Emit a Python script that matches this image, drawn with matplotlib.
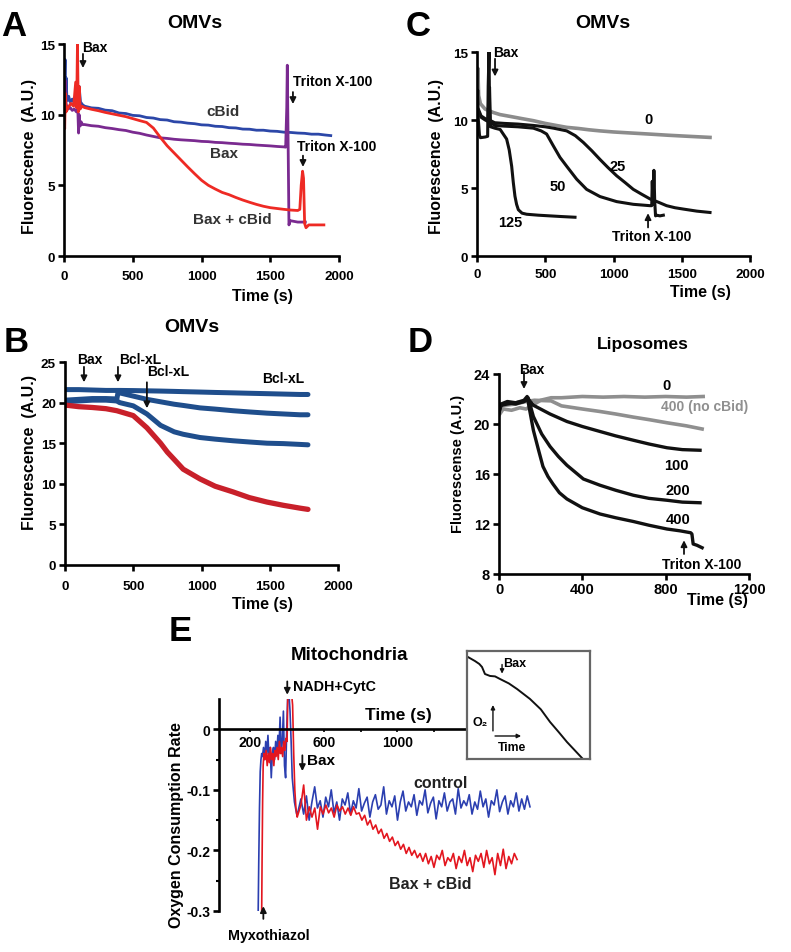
import numpy as np
import matplotlib
matplotlib.use('Agg')
import matplotlib.pyplot as plt

plt.rcParams['font.family'] = ['Liberation Sans', 'DejaVu Sans']
plt.rcParams['font.weight'] = 'bold'

# ---------------- data ----------------
# Panel A (OMVs): fluorescence vs time
a_cbid_t = [0, 4, 8, 12, 16, 20, 26, 34, 45, 60, 75, 90, 100, 110, 120, 135,
            150, 200, 250, 300, 350, 400, 450, 500, 550, 600, 650, 700, 750, 800, 850, 900, 950,
            1000, 1050, 1100, 1150, 1200, 1250, 1300, 1350, 1400, 1450, 1500, 1550, 1600, 1650,
            1700, 1750, 1800, 1850, 1900, 1940]
a_cbid_v = [10.6, 12.5, 13.9, 11.2, 12.6, 11.4, 11.0, 11.3, 10.9, 11.1, 10.8, 11.8, 11.3, 12.0, 10.9, 10.7,
            10.60, 10.48, 10.45, 10.32, 10.28, 10.12, 10.08, 9.95, 9.92, 9.80, 9.76, 9.65, 9.62, 9.50, 9.47, 9.40, 9.36,
            9.28, 9.26, 9.18, 9.16, 9.08, 9.06, 8.98, 8.97, 8.90, 8.90, 8.84, 8.82, 8.76, 8.74,
            8.70, 8.68, 8.62, 8.62, 8.56, 8.52]
a_bax_t = [0, 5, 10, 15, 20, 30, 45, 60, 75, 90, 100, 106, 110, 114, 118, 124, 135,
           150, 200, 250, 300, 350, 400, 450, 500, 550, 600, 650, 700, 750, 800, 850, 900, 950,
           1000, 1050, 1100, 1150, 1200, 1250, 1300, 1350, 1400, 1450, 1500, 1550, 1600,
           1612, 1620, 1624, 1630, 1636, 1645, 1700, 1755]
a_bax_v = [10.3, 11.0, 12.4, 10.8, 10.6, 10.4, 10.5, 10.3, 10.4, 10.2, 10.5, 8.7, 10.0, 9.4, 9.2, 9.5, 9.3,
           9.30, 9.22, 9.18, 9.08, 9.02, 8.94, 8.88, 8.76, 8.68, 8.56, 8.46, 8.36, 8.32, 8.26, 8.22, 8.19, 8.16,
           8.11, 8.09, 8.04, 8.02, 7.98, 7.95, 7.91, 7.89, 7.85, 7.82, 7.79, 7.75, 7.72,
           7.70, 10.5, 13.5, 8.0, 2.2, 2.5, 2.4, 2.4]
a_both_t = [0, 5, 10, 15, 30, 50, 70, 85, 92, 98, 104, 110, 118, 130,
            150, 200, 250, 300, 350, 400, 450, 500, 550, 600, 650, 700, 750, 800, 850, 900, 950,
            1000, 1050, 1100, 1150, 1200, 1250, 1300, 1350, 1400, 1450, 1500, 1550, 1600, 1650, 1700,
            1715, 1725, 1735, 1742, 1750, 1760, 1780, 1850, 1890]
a_both_v = [10.5, 9.0, 11.5, 10.2, 10.5, 10.8, 10.6, 12.3, 10.5, 15.0, 10.2, 12.0, 10.4, 10.6,
            10.50, 10.38, 10.28, 10.16, 10.06, 9.96, 9.86, 9.72, 9.58, 9.45, 9.05, 8.40, 7.80, 7.30, 6.80, 6.30, 5.82,
            5.36, 5.00, 4.74, 4.50, 4.34, 4.14, 3.96, 3.80, 3.65, 3.52, 3.42, 3.36, 3.30, 3.25, 3.22,
            3.3, 5.0, 6.0, 5.5, 2.3, 2.0, 2.2, 2.2, 2.2]

# Panel B (OMVs, Bcl-xL)
b_t = [0, 100, 200, 300, 380, 390, 400, 500, 600, 700, 750, 800, 866, 989, 1100, 1231, 1350, 1480, 1600, 1722, 1780]
b_top = [21.6, 21.6, 21.55, 21.5, 21.5, 21.5, 21.5, 21.48, 21.45, 21.42, 21.4, 21.38, 21.35, 21.3, 21.25, 21.2, 21.15, 21.1, 21.05, 21.0, 21.0]
b_mid = [20.3, 20.4, 20.5, 20.5, 20.45, 21.4, 21.2, 20.8, 20.4, 20.1, 19.95, 19.8, 19.65, 19.35, 19.2, 19.0, 18.85, 18.7, 18.6, 18.5, 18.5]
b_low = [20.1, 20.2, 20.3, 20.3, 20.2, 20.1, 20.0, 19.6, 18.6, 17.2, 16.8, 16.4, 16.1, 15.7, 15.5, 15.3, 15.15, 15.0, 14.95, 14.85, 14.8]
b_red = [19.7, 19.5, 19.4, 19.25, 19.0, 18.95, 18.9, 18.4, 16.9, 15.0, 13.9, 13.0, 11.8, 10.6, 9.7, 9.0, 8.3, 7.75, 7.35, 7.0, 6.85]

# Panel C (OMVs, cBid titration)
c0_t = [0, 6, 12, 25, 60, 120, 168, 250, 330, 413, 500, 580, 657, 740, 820, 901, 1000, 1100, 1255, 1400, 1550, 1707]
c0_v = [12.5, 13.8, 11.8, 11.2, 10.8, 10.55, 10.4, 10.25, 10.1, 9.95, 9.75, 9.6, 9.46, 9.38, 9.28, 9.2, 9.12, 9.06, 8.97, 8.88, 8.8, 8.72]
c125_t = [0, 5, 10, 18, 25, 60, 78, 82, 88, 92, 96, 100, 130, 170, 217, 236, 254, 266, 278, 290, 303, 330, 364, 450, 535, 620, 718]
c125_v = [10.5, 12.2, 10.0, 8.9, 8.7, 8.75, 8.8, 12.5, 15.0, 11.0, 9.6, 9.5, 9.4, 9.3, 8.6, 7.8, 6.6, 5.4, 4.4, 3.8, 3.4, 3.15, 3.07, 3.0, 2.95, 2.9, 2.85]
c50_t = [0, 10, 30, 60, 80, 86, 92, 98, 130, 200, 300, 413, 470, 510, 559, 608, 657, 730, 803, 901, 1023, 1145, 1267,
         1280, 1284, 1290, 1296, 1302, 1308, 1316, 1340, 1365]
c50_v = [10.3, 10.6, 10.2, 10.0, 9.9, 11.8, 12.4, 9.8, 9.6, 9.55, 9.5, 9.4, 9.2, 8.97, 8.1, 7.25, 6.6, 5.65, 4.9, 4.37, 4.0, 3.8, 3.7,
         3.7, 5.5, 3.8, 6.3, 4.0, 2.95, 3.0, 2.95, 3.0]
c25_t = [0, 10, 30, 60, 90, 130, 200, 300, 413, 500, 560, 657, 720, 779, 840, 901, 960, 1023, 1085, 1145, 1205, 1267, 1330, 1389, 1450, 1512, 1610, 1707]
c25_v = [10.4, 10.8, 10.3, 10.1, 10.0, 9.8, 9.75, 9.7, 9.6, 9.5, 9.4, 9.2, 8.85, 8.35, 7.75, 7.1, 6.5, 5.9, 5.4, 4.9, 4.55, 4.2, 3.95, 3.7, 3.55, 3.45, 3.3, 3.2]

# Panel D (Liposomes)
d0_t = [0, 20, 60, 100, 130, 170, 200, 250, 300, 400, 500, 600, 700, 800, 900, 980]
d0_v = [20.7, 21.2, 21.1, 21.3, 21.2, 21.6, 21.9, 22.1, 22.1, 22.2, 22.15, 22.2, 22.15, 22.2, 22.15, 22.2]
dn_t = [0, 30, 80, 130, 170, 250, 300, 400, 485, 560, 645, 720, 806, 900, 975]
dn_v = [21.4, 21.5, 21.6, 21.8, 21.9, 21.85, 21.45, 21.2, 21.0, 20.8, 20.55, 20.35, 20.1, 19.85, 19.6]
d100_t = [0, 10, 40, 80, 120, 140, 165, 245, 326, 400, 485, 560, 645, 720, 806, 880, 965]
d100_v = [20.9, 21.5, 21.6, 21.7, 21.8, 22.0, 21.5, 20.8, 20.2, 19.8, 19.4, 19.05, 18.7, 18.4, 18.1, 17.95, 17.9]
d200_t = [0, 10, 40, 80, 120, 140, 165, 205, 245, 285, 326, 405, 485, 560, 645, 720, 806, 880, 965]
d200_v = [21.0, 21.5, 21.7, 21.6, 21.8, 22.1, 20.6, 19.2, 18.2, 17.4, 16.7, 15.6, 15.1, 14.7, 14.3, 14.05, 13.9, 13.75, 13.7]
d400_t = [0, 10, 40, 80, 120, 135, 165, 190, 211, 235, 259, 290, 326, 400, 485, 560, 645, 720, 806, 870, 920, 926, 932, 950, 975]
d400_v = [21.2, 21.6, 21.8, 21.7, 21.9, 22.2, 19.5, 17.9, 16.6, 15.8, 15.2, 14.5, 14.0, 13.3, 12.8, 12.5, 12.2, 11.9, 11.6, 11.45, 11.3, 11.2, 10.4, 10.3, 10.1]

# Panel E (Mitochondria): oxygen consumption rate
e_ctrl_pre_t = [243, 246, 250, 254, 258, 262, 266, 272, 278, 284, 290, 296, 302, 308, 314, 320, 326, 332, 338, 344,
                350, 356, 362, 368, 374, 380, 386, 392, 398, 404, 410, 416, 422, 428, 434, 440, 446, 452]
e_ctrl_pre_v = [-0.30, -0.22, -0.13, -0.07, -0.05, -0.04, -0.045, -0.03, -0.05, -0.02, -0.04, -0.01, -0.05, -0.03,
                -0.08, -0.04, -0.03, -0.05, -0.02, -0.04, -0.01, -0.03, 0.02, -0.04, -0.02, 0.03, -0.06, -0.08,
                0.0, 0.06, 0.06, 0.03, -0.02, -0.08, -0.10, -0.12, -0.13, -0.14]
e_ctrl_t0, e_ctrl_t1 = 460, 1720
e_ctrl_v = [-0.135, -0.115, -0.140, -0.110, -0.150, -0.120, -0.095, -0.130, -0.118, -0.145, -0.112, -0.128, -0.100, -0.138, -0.120, -0.150, -0.115, -0.125, -0.105, -0.140,
            -0.118, -0.130, -0.098, -0.135, -0.122, -0.112, -0.145, -0.120, -0.108, -0.132, -0.125, -0.095, -0.140, -0.118, -0.128, -0.110, -0.150, -0.120, -0.102, -0.135,
            -0.120, -0.128, -0.108, -0.142, -0.118, -0.125, -0.100, -0.138, -0.122, -0.112, -0.148, -0.118, -0.128, -0.105, -0.135, -0.120, -0.115, -0.140, -0.098, -0.130,
            -0.118, -0.126, -0.108, -0.140, -0.120, -0.132, -0.102, -0.128, -0.115, -0.145, -0.118, -0.125, -0.100, -0.136, -0.120, -0.110, -0.140, -0.118, -0.128, -0.105,
            -0.135, -0.115, -0.132, -0.110, -0.128]
e_bax_pre_t = [262, 264, 267, 270, 274, 280, 286, 292, 298, 304, 310, 316, 322, 328, 334, 340, 346, 352, 358, 364,
               370, 376, 382, 388, 394, 400, 404, 408, 416, 424, 430, 436, 442, 448, 455]
e_bax_pre_v = [-0.30, -0.22, -0.12, -0.06, -0.04, -0.05, -0.035, -0.06, -0.04, -0.055, -0.03, -0.05, -0.04, -0.06,
               -0.035, -0.045, -0.03, -0.05, -0.02, -0.04, -0.03, -0.045, -0.02, -0.035, -0.015, -0.02, 0.06,
               0.06, 0.06, 0.06, 0.04, -0.04, -0.10, -0.13, -0.145]
e_bax_t0, e_bax_t1 = 460, 1650
e_bax_v = [-0.140, -0.125, -0.092, -0.150, -0.128, -0.145, -0.130, -0.165, -0.128, -0.140, -0.125, -0.138, -0.130, -0.145, -0.125,
           -0.135, -0.128, -0.140, -0.130, -0.142, -0.128, -0.140,
           -0.138, -0.150, -0.142, -0.158, -0.150, -0.165, -0.158, -0.172, -0.165, -0.180, -0.172, -0.185, -0.178, -0.192, -0.185,
           -0.198, -0.190, -0.205, -0.195, -0.208, -0.200, -0.212, -0.205,
           -0.218, -0.205, -0.222, -0.210, -0.228, -0.208, -0.215, -0.200, -0.225, -0.212, -0.218, -0.205, -0.230, -0.210, -0.220,
           -0.200, -0.225, -0.212, -0.235, -0.208, -0.218, -0.205, -0.228, -0.200, -0.222, -0.212, -0.240, -0.205, -0.225, -0.198,
           -0.230, -0.210, -0.222, -0.205, -0.215]
# inset: O2 trace (schematic, relative units)
ins_x = [0.008, 0.065, 0.10, 0.122, 0.146, 0.187, 0.228, 0.268, 0.34, 0.407, 0.512, 0.60, 0.675, 0.745, 0.813, 0.935]
ins_y = [0.944, 0.907, 0.88, 0.852, 0.787, 0.769, 0.765, 0.741, 0.70, 0.648, 0.556, 0.46, 0.343, 0.25, 0.157, 0.009]

# ---------------- figure ----------------
W, H = 791, 953
fig = plt.figure(figsize=(W / 100, H / 100), dpi=100)


def rect(l, t, r, b):
    return [l / W, 1 - b / H, (r - l) / W, (b - t) / H]


def ft(px, py, s, **kw):
    kw.setdefault('ha', 'center')
    kw.setdefault('va', 'center')
    fig.text(px / W, 1 - py / H, s, **kw)


def arrow(ax, x, y0, y1, lw=1.3, ms=9, x1=None):
    if x1 is None:
        x1 = x
    ax.annotate('', xy=(x1, y1), xytext=(x, y0),
                arrowprops=dict(arrowstyle='-|>', color='#111111', lw=lw, mutation_scale=ms,
                                shrinkA=0, shrinkB=0),
                annotation_clip=False)


def style(ax, labelsize=9.7, xpad=5.3):
    for s in ['top', 'right']:
        ax.spines[s].set_visible(False)
    for s in ['left', 'bottom']:
        ax.spines[s].set_linewidth(1.9)
    ax.tick_params(axis='both', width=1.9, length=4.5, labelsize=labelsize, direction='out')
    ax.tick_params(axis='y', pad=2)
    ax.tick_params(axis='x', pad=xpad)


BLUE_A = '#2c47a8'
PURPLE = '#7a2a90'
RED_A = '#ee2a24'

# ---- Panel A ----
axA = fig.add_axes(rect(64, 45, 339, 257))
axA.plot(a_cbid_t, a_cbid_v, color=BLUE_A, lw=2.0)
axA.plot(a_bax_t, a_bax_v, color=PURPLE, lw=2.0)
axA.plot(a_both_t, a_both_v, color=RED_A, lw=2.0)
axA.set_xlim(0, 2000)
axA.set_ylim(0, 15)
axA.set_xticks([0, 500, 1000, 1500, 2000])
axA.set_yticks([0, 5, 10, 15])
style(axA, xpad=5.3)
axA.text(130, 14.8, 'Bax', fontsize=10, ha='left', va='center')
arrow(axA, 138, 14.3, 13.3)
axA.text(1156, 10.26, 'cBid', fontsize=11, ha='center', va='center', color='#333333')
axA.text(1164, 7.29, 'Bax', fontsize=11, ha='center', va='center', color='#333333')
axA.text(1222, 2.6, 'Bax + cBid', fontsize=11, ha='center', va='center', color='#333333')
axA.text(1665, 12.4, 'Triton X-100', fontsize=10, ha='left', va='center')
arrow(axA, 1665, 11.6, 10.75)
axA.text(1695, 7.8, 'Triton X-100', fontsize=10, ha='left', va='center')
arrow(axA, 1738, 7.1, 6.3)
ft(14, 26, 'A', fontsize=25)
ft(195, 23, 'OMVs', fontsize=14)
ft(30, 156, 'Fluorescence  (A.U.)', fontsize=11.5, rotation=90)
ft(262, 297, 'Time (s)', fontsize=11.5)

# ---- Panel B ----
BLUE_B = '#1f4e8c'
RED_B = '#c8202a'
axB = fig.add_axes(rect(65, 363, 338, 566))
axB.plot(b_t, b_top, color=BLUE_B, lw=3.6, solid_capstyle='round')
axB.plot(b_t, b_mid, color=BLUE_B, lw=3.6, solid_capstyle='round')
axB.plot(b_t, b_low, color=BLUE_B, lw=3.6, solid_capstyle='round')
axB.plot(b_t, b_red, color=RED_B, lw=3.8, solid_capstyle='round')
axB.set_xlim(0, 2000)
axB.set_ylim(0, 25)
axB.set_xticks([0, 500, 1000, 1500, 2000])
axB.set_yticks([0, 5, 10, 15, 20, 25])
style(axB, xpad=6)
axB.text(183, 25.4, 'Bax', fontsize=10, ha='center', va='center')
arrow(axB, 139, 24.4, 22.5)
axB.text(549, 25.4, 'Bcl-xL', fontsize=10, ha='center', va='center')
arrow(axB, 388, 24.4, 22.5)
axB.text(755, 23.9, 'Bcl-xL', fontsize=10, ha='center', va='center')
arrow(axB, 600, 22.5, 19.3)
axB.text(1597, 23.0, 'Bcl-xL', fontsize=10, ha='center', va='center')
ft(16, 343, 'B', fontsize=25)
ft(192, 328, 'OMVs', fontsize=14)
ft(30, 453, 'Fluorescence  (A.U.)', fontsize=11.5, rotation=90)
ft(262, 604, 'Time (s)', fontsize=11.5)

# ---- Panel C ----
GRAY = '#8c8c8c'
axC = fig.add_axes(rect(477, 53, 750, 257))
axC.plot(c0_t, c0_v, color=GRAY, lw=2.6)
axC.plot(c25_t, c25_v, color='#111111', lw=2.2)
axC.plot(c50_t, c50_v, color='#111111', lw=2.2)
axC.plot(c125_t, c125_v, color='#111111', lw=2.2)
axC.set_xlim(0, 2000)
axC.set_ylim(0, 15)
axC.set_xticks([0, 500, 1000, 1500, 2000])
axC.set_yticks([0, 5, 10, 15])
style(axC, xpad=3.9)
axC.text(117, 15.0, 'Bax', fontsize=10, ha='left', va='center')
arrow(axC, 132, 14.5, 13.2)
axC.text(1253, 10.07, '0', fontsize=10.5, ha='center', va='center')
axC.text(1033, 6.6, '25', fontsize=10.5, ha='center', va='center')
axC.text(593, 5.15, '50', fontsize=10.5, ha='center', va='center')
axC.text(242, 2.5, '125', fontsize=10.5, ha='center', va='center')
axC.text(1282, 1.47, 'Triton X-100', fontsize=10, ha='center', va='center')
arrow(axC, 1253, 2.1, 3.15)
ft(418, 26, 'C', fontsize=25)
ft(603, 23, 'OMVs', fontsize=14)
ft(437, 157, 'Fluorescence  (A.U.)', fontsize=11.5, rotation=90)
ft(700, 292, 'Time (s)', fontsize=11.5)

# ---- Panel D ----
GRAY_D = '#8f8f8f'
axD = fig.add_axes(rect(499, 375, 749, 575))
axD.plot(d0_t, d0_v, color=GRAY_D, lw=2.6)
axD.plot(dn_t, dn_v, color=GRAY_D, lw=2.6)
axD.plot(d100_t, d100_v, color='#111111', lw=2.4)
axD.plot(d200_t, d200_v, color='#111111', lw=2.4)
axD.plot(d400_t, d400_v, color='#111111', lw=2.4)
axD.set_xlim(0, 1200)
axD.set_ylim(8, 24)
axD.set_xticks([0, 400, 800, 1200])
axD.set_yticks([8, 12, 16, 20, 24])
style(axD, labelsize=10.5, xpad=1)
axD.text(158, 24.4, 'Bax', fontsize=10, ha='center', va='center')
arrow(axD, 120, 24.2, 22.8)
axD.text(806, 23.1, '0', fontsize=10.5, ha='center', va='center')
axD.text(989, 21.4, '400 (no cBid)', fontsize=10, ha='center', va='center', color=GRAY_D)
axD.text(850, 16.7, '100', fontsize=10.5, ha='center', va='center')
axD.text(859, 14.7, '200', fontsize=10.5, ha='center', va='center')
axD.text(859, 12.4, '400', fontsize=10.5, ha='center', va='center')
axD.text(974, 8.8, 'Triton X-100', fontsize=10, ha='center', va='center')
arrow(axD, 888, 9.6, 10.7)
ft(420, 343, 'D', fontsize=25)
ft(643, 345, 'Liposomes', fontsize=12.5)
ft(458, 464, 'Fluorescense (A.U.)', fontsize=10.5, rotation=90)
ft(717, 601, 'Time (s)', fontsize=11.5)

# ---- Panel E ----
BLUE_E = '#2b3fb0'
RED_E = '#e3161f'
axE = fig.add_axes(rect(219, 700, 535.5, 912))
e_ctrl_t = np.linspace(e_ctrl_t0, e_ctrl_t1, len(e_ctrl_v))
e_bax_t = np.linspace(e_bax_t0, e_bax_t1, len(e_bax_v))
axE.plot(list(e_ctrl_pre_t) + list(e_ctrl_t), list(e_ctrl_pre_v) + list(e_ctrl_v), color=BLUE_E, lw=1.2)
axE.plot(list(e_bax_pre_t) + list(e_bax_t), list(e_bax_pre_v) + list(e_bax_v), color=RED_E, lw=1.2)
axE.set_xlim(30, 1750)
axE.set_ylim(-0.3, 0.05)
for s in ['top', 'right']:
    axE.spines[s].set_visible(False)
axE.spines['left'].set_linewidth(1.9)
axE.spines['bottom'].set_linewidth(1.9)
axE.spines['bottom'].set_position(('data', 0))
axE.spines['bottom'].set_bounds(30, 1380)
axE.set_xticks([200, 400, 600, 800, 1000, 1200])
axE.set_xticklabels(['200', '', '600', '', '1000', ''])
axE.tick_params(axis='x', length=2.5, width=1.2, pad=1.5, labelsize=10, direction='out')
axE.set_yticks([0, -0.1, -0.2, -0.3])
axE.set_yticklabels(['0', '-0.1', '-0.2', '-0.3'])
axE.set_yticks([-0.05, -0.15, -0.25], minor=True)
axE.tick_params(axis='y', length=4, width=1.9, pad=2, labelsize=10, direction='out')
axE.tick_params(axis='y', which='minor', length=2.5, width=1.5)
axE.text(434, 0.071, 'NADH+CytC', fontsize=10.3, ha='left', va='center')
arrow(axE, 401, 0.079, 0.057)
axE.text(1004, 0.025, 'Time (s)', fontsize=12.5, ha='center', va='center')
axE.text(510, -0.051, 'Bax', fontsize=11, ha='left', va='center')
arrow(axE, 483, -0.043, -0.069)
axE.text(1233, -0.0875, 'control', fontsize=11.5, ha='center', va='center', color='#222222')
axE.text(1178, -0.254, 'Bax + cBid', fontsize=11.5, ha='center', va='center', color='#222222')
axE.text(303, -0.34, 'Myxothiazol', fontsize=10.3, ha='center', va='center')
arrow(axE, 271, -0.313, -0.292)
ft(180, 632, 'E', fontsize=25)
ft(350, 656, 'Mitochondria', fontsize=13.5)
ft(176, 825, 'Oxygen Consumption Rate', fontsize=11.5, rotation=90)

# inset
axI = fig.add_axes(rect(467, 652, 590, 760))
axI.plot(ins_x, ins_y, color='#111111', lw=1.4)
axI.set_xlim(0, 1)
axI.set_ylim(0, 1)
axI.set_xticks([])
axI.set_yticks([])
for s in axI.spines.values():
    s.set_linewidth(1.6)
    s.set_color('#666666')
axI.text(0.39, 0.889, 'Bax', fontsize=9, ha='center', va='center')
arrow(axI, 0.285, 0.875, 0.79, lw=1.0, ms=6)
axI.text(0.106, 0.343, 'O₂', fontsize=9, ha='center', va='center')
arrow(axI, 0.211, 0.26, 0.50, lw=1.0, ms=6)
arrow(axI, 0.228, 0.213, 0.213, lw=1.0, ms=6, x1=0.44)
axI.text(0.366, 0.111, 'Time', fontsize=8.7, ha='center', va='center')

fig.savefig('out.png', dpi=100)
